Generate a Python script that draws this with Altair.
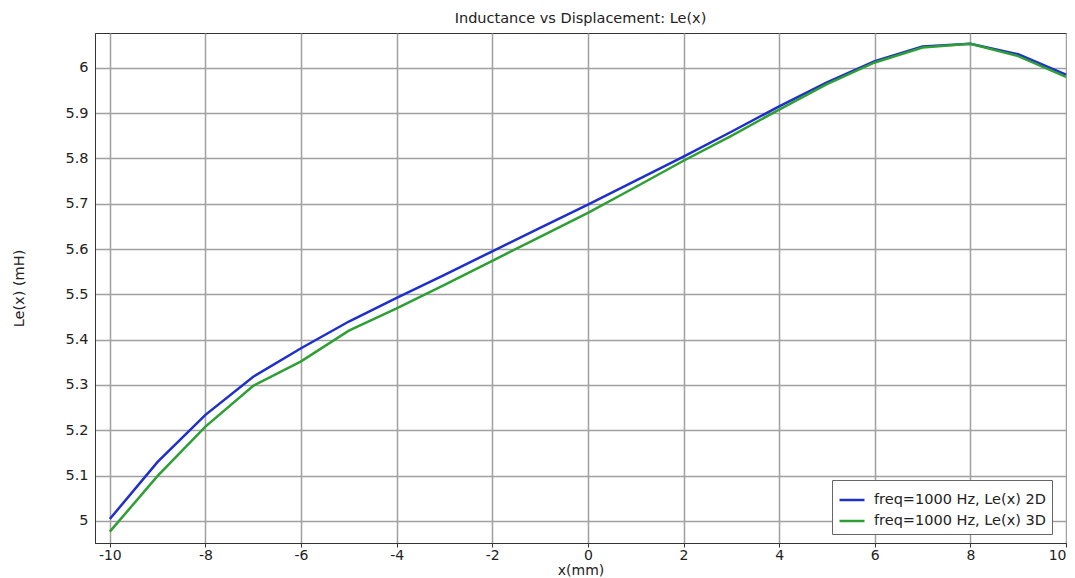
import altair as alt
import pandas as pd

x_mm = [-10, -9, -8, -7, -6, -5, -4, -3, -2, -1, 0, 1, 2, 3, 4, 5, 6, 7, 8, 9, 10]
le_2d = [5.004, 5.130, 5.234, 5.318, 5.381, 5.440, 5.492, 5.543, 5.595, 5.647, 5.698,
         5.751, 5.804, 5.859, 5.915, 5.968, 6.015, 6.047, 6.053, 6.030, 5.985]
le_3d = [4.976, 5.099, 5.208, 5.298, 5.352, 5.420, 5.469, 5.521, 5.574, 5.627, 5.680,
         5.737, 5.795, 5.850, 5.908, 5.964, 6.012, 6.045, 6.053, 6.026, 5.980]
series_names = ["freq=1000 Hz, Le(x) 2D", "freq=1000 Hz, Le(x) 3D"]
series_colors = ["#1f2fcc", "#2e9f35"]
x_ticks = [-10, -8, -6, -4, -2, 0, 2, 4, 6, 8, 10]
y_ticks = [5.0, 5.1, 5.2, 5.3, 5.4, 5.5, 5.6, 5.7, 5.8, 5.9, 6.0]

rows = []
for xv, a, b in zip(x_mm, le_2d, le_3d):
    rows.append({"x": xv, "Le": a, "series": series_names[0]})
    rows.append({"x": xv, "Le": b, "series": series_names[1]})
df = pd.DataFrame(rows)

font = "DejaVu Sans"
fs = 14.5

chart = alt.Chart(df).mark_line(strokeWidth=2.5).encode(
    x=alt.X("x:Q", title="x(mm)",
            scale=alt.Scale(domain=[-10.31, 10], nice=False, zero=False),
            axis=alt.Axis(values=x_ticks, labelExpr="datum.value + ''",
                          grid=True, gridColor="#a0a0a0", gridWidth=1.5,
                          domainColor="#333", tickColor="#333", tickSize=4,
                          labelFontSize=14, labelColor="#222", labelPadding=1,
                          titleFontSize=14, titleColor="#222", titlePadding=1,
                          titleFontWeight="normal", labelFont=font, titleFont=font)),
    y=alt.Y("Le:Q", title="Le(x) (mH)",
            scale=alt.Scale(domain=[4.951, 6.077], nice=False, zero=False),
            axis=alt.Axis(values=y_ticks, format="~f",
                          grid=True, gridColor="#a0a0a0", gridWidth=1.5,
                          domainColor="#333", tickColor="#333", tickSize=0,
                          labelFontSize=fs, labelColor="#222", labelPadding=7,
                          titleFontSize=fs, titleColor="#222", titlePadding=38,
                          titleFontWeight="normal", labelFont=font, titleFont=font)),
    color=alt.Color("series:N",
                    scale=alt.Scale(domain=series_names, range=series_colors),
                    legend=alt.Legend(title=None, orient="none", legendX=737, legendY=447,
                                      symbolType="stroke", symbolStrokeWidth=2.5,
                                      symbolSize=625, labelFontSize=fs, labelFont=font,
                                      labelColor="#222", labelLimit=400, labelOffset=8,
                                      strokeColor="#666", fillColor="white",
                                      padding=6, rowPadding=0, symbolOffset=0)),
).properties(
    width=971, height=510,
    title=alt.TitleParams("Inductance vs Displacement: Le(x)", fontSize=fs,
                          fontWeight="normal", font=font, color="#222", offset=7),
    autosize=alt.AutoSizeParams(type="none"),
    padding={"left": 87, "top": 25, "right": 1, "bottom": 35},
).configure_view(stroke="#333", strokeWidth=1)

chart.save("out.html", embed_options={"renderer": "svg", "actions": False})
